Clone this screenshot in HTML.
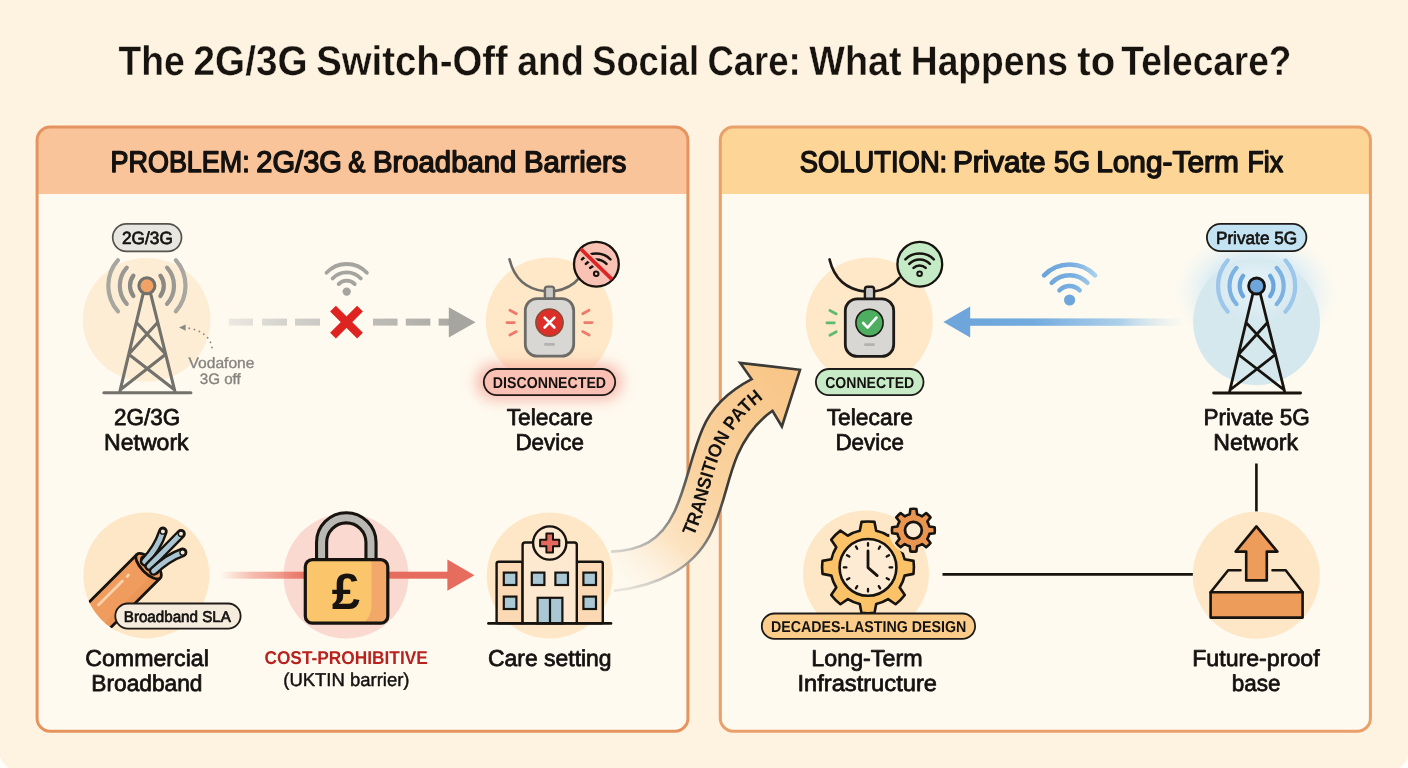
<!DOCTYPE html>
<html lang="en">
<head>
<meta charset="utf-8">
<title>The 2G/3G Switch-Off and Social Care: What Happens to Telecare?</title>
<style>
html,body{margin:0;padding:0;background:#ffffff;}
body{width:1408px;height:768px;overflow:hidden;}
svg{display:block;will-change:transform;font-family:"Liberation Sans",Arial,Helvetica,sans-serif;}
text{white-space:pre;text-rendering:geometricPrecision;}
</style>
</head>
<body>
<svg width="1408" height="768" viewBox="0 0 1408 768">
<defs>
<linearGradient id="gDash" gradientUnits="userSpaceOnUse" x1="228" y1="0" x2="476" y2="0">
<stop offset="0" stop-color="#ece9e3"/><stop offset="0.25" stop-color="#d3d1cb"/><stop offset="0.6" stop-color="#bdbbb5"/><stop offset="1" stop-color="#a6a59f"/></linearGradient>
<linearGradient id="gRed" gradientUnits="userSpaceOnUse" x1="220" y1="0" x2="310" y2="0">
<stop offset="0" stop-color="#ee8d7e" stop-opacity="0"/><stop offset="0.35" stop-color="#ee8d7e" stop-opacity="0.55"/><stop offset="1" stop-color="#e66c5d"/></linearGradient>
<linearGradient id="gBlue" gradientUnits="userSpaceOnUse" x1="970" y1="0" x2="1185" y2="0">
<stop offset="0" stop-color="#6ea6dc"/><stop offset="0.3" stop-color="#74abdf"/><stop offset="0.7" stop-color="#a3cbe9" stop-opacity="0.9"/><stop offset="1" stop-color="#cfe4f2" stop-opacity="0"/></linearGradient>
<linearGradient id="gWifiB" gradientUnits="userSpaceOnUse" x1="1040" y1="0" x2="1100" y2="0">
<stop offset="0" stop-color="#6ba4db"/><stop offset="0.55" stop-color="#78aee0"/><stop offset="1" stop-color="#b4d8ef"/></linearGradient>
<linearGradient id="gPathFill" gradientUnits="userSpaceOnUse" x1="612" y1="575" x2="790" y2="380">
<stop offset="0" stop-color="#fdf3e4" stop-opacity="0"/><stop offset="0.1" stop-color="#fdf1e0" stop-opacity="0.7"/><stop offset="0.25" stop-color="#fce3c1"/><stop offset="0.5" stop-color="#fad3a0"/><stop offset="1" stop-color="#f8c688"/></linearGradient>
<linearGradient id="gPathStroke" gradientUnits="userSpaceOnUse" x1="612" y1="575" x2="720" y2="480">
<stop offset="0" stop-color="#cfcdc9" stop-opacity="0.5"/><stop offset="0.45" stop-color="#9c9a96"/><stop offset="1" stop-color="#3b3a36"/></linearGradient>
<radialGradient id="gGlowB" cx="0.5" cy="0.5" r="0.5">
<stop offset="0" stop-color="#bfe0f5" stop-opacity="0.95"/><stop offset="0.6" stop-color="#cfe7f6" stop-opacity="0.7"/><stop offset="1" stop-color="#e6f2f8" stop-opacity="0"/></radialGradient>
<radialGradient id="gHalo" cx="0.5" cy="0.5" r="0.5"><stop offset="0" stop-color="#e8f4fa" stop-opacity="0.9"/><stop offset="0.55" stop-color="#e3f1f8" stop-opacity="0.6"/><stop offset="1" stop-color="#d9ebf3" stop-opacity="0"/></radialGradient>
<filter id="blur6" x="-30%" y="-120%" width="160%" height="340%"><feGaussianBlur stdDeviation="7"/></filter>
</defs>
<rect width="1408" height="768" fill="#fef2e1"/>
<path d="M0 757.3Q3.4 763.6 8.6 768H0ZM1408 757.8Q1404.6 763.6 1399.2 768H1408Z" fill="#fffefb"/>
<text y="75.30" font-size="41.4" fill="#17130f" font-weight="bold" stroke="#fef2e1" stroke-width="0.35" stroke-linejoin="round"><tspan x="118.58" textLength="66.28" lengthAdjust="spacingAndGlyphs">The</tspan> <tspan x="193.62" textLength="113.84" lengthAdjust="spacingAndGlyphs">2G/3G</tspan> <tspan x="316.23" textLength="191.54" lengthAdjust="spacingAndGlyphs">Switch-Off</tspan> <tspan x="517.24" textLength="66.58" lengthAdjust="spacingAndGlyphs">and</tspan> <tspan x="592.26" textLength="106.81" lengthAdjust="spacingAndGlyphs">Social</tspan> <tspan x="707.43" textLength="93.27" lengthAdjust="spacingAndGlyphs">Care:</tspan> <tspan x="809.33" textLength="92.28" lengthAdjust="spacingAndGlyphs">What</tspan> <tspan x="910.75" textLength="157.18" lengthAdjust="spacingAndGlyphs">Happens</tspan> <tspan x="1077.33" textLength="37.91" lengthAdjust="spacingAndGlyphs">to</tspan> <tspan x="1121.33" textLength="170.14" lengthAdjust="spacingAndGlyphs">Telecare?</tspan></text>
<rect x="37.1" y="127.1" width="650.8" height="604.1" rx="13" fill="#fefaef"/>
<path d="M37.1 194V140.1A13 13 0 0 1 50.1 127.1H674.9A13 13 0 0 1 687.9 140.1V194Z" fill="#f9c499"/>
<rect x="37.1" y="127.1" width="650.8" height="604.1" rx="13" fill="none" stroke="#e6945f" stroke-width="3"/>
<rect x="720.3" y="127.1" width="650.1" height="604.1" rx="13" fill="#fefaef"/>
<path d="M720.3 194V140.1A13 13 0 0 1 733.3 127.1H1357.4A13 13 0 0 1 1370.4 140.1V194Z" fill="#fdd697"/>
<rect x="720.3" y="127.1" width="650.1" height="604.1" rx="13" fill="none" stroke="#e9a06a" stroke-width="3"/>
<text y="171.75" font-size="29.8" fill="#141210" stroke="#141210" stroke-width="1.45" stroke-linejoin="round"><tspan x="110.62" textLength="139.08" lengthAdjust="spacingAndGlyphs">PROBLEM:</tspan> <tspan x="256.36" textLength="85.58" lengthAdjust="spacingAndGlyphs">2G/3G</tspan> <tspan x="348.17" textLength="17.13" lengthAdjust="spacingAndGlyphs">&amp;</tspan> <tspan x="372.93" textLength="143.49" lengthAdjust="spacingAndGlyphs">Broadband</tspan> <tspan x="523.94" textLength="102.50" lengthAdjust="spacingAndGlyphs">Barriers</tspan></text>
<text y="171.75" font-size="29.8" fill="#141210" stroke="#141210" stroke-width="1.45" stroke-linejoin="round"><tspan x="799.87" textLength="147.37" lengthAdjust="spacingAndGlyphs">SOLUTION:</tspan> <tspan x="952.90" textLength="92.58" lengthAdjust="spacingAndGlyphs">Private</tspan> <tspan x="1053.88" textLength="36.17" lengthAdjust="spacingAndGlyphs">5G</tspan> <tspan x="1096.14" textLength="142.68" lengthAdjust="spacingAndGlyphs">Long-Term</tspan> <tspan x="1247.39" textLength="35.64" lengthAdjust="spacingAndGlyphs">Fix</tspan></text>
<ellipse cx="146.6" cy="319.8" rx="63.8" ry="61.8" fill="#fdedd4"/>
<path d="M160.40 275.63A16.90 16.90 0 0 1 160.40 295.97M133.40 295.97A16.90 16.90 0 0 1 133.40 275.63" fill="none" stroke="#8b8984" stroke-width="4.2" stroke-linecap="round"/>
<path d="M167.04 267.67A27.10 27.10 0 0 1 167.04 303.93M126.76 303.93A27.10 27.10 0 0 1 126.76 267.67" fill="none" stroke="#9a9893" stroke-width="4.2" stroke-linecap="round"/>
<path d="M175.81 260.22A38.60 38.60 0 0 1 175.81 311.38M117.99 311.38A38.60 38.60 0 0 1 117.99 260.22" fill="none" stroke="#a8a79f" stroke-width="4.2" stroke-linecap="round"/>
<path d="M143.1 293.8L119.9 391.3M150.7 293.8L174.9 391.3M136.3 322.3L165.7 354.3M157.8 322.3L128.7 354.3M128.7 354.3L174.5 389.8M165.7 354.3L120.3 389.8" fill="none" stroke="#73716c" stroke-width="3.1" stroke-linecap="round" stroke-linejoin="round"/>
<path d="M103.9 392.8H190.9" stroke="#73716c" stroke-width="3.1" stroke-linecap="round"/>
<circle cx="146.9" cy="285.8" r="8" fill="#f2a266" stroke="#73716c" stroke-width="3.1"/>
<rect x="112.7" y="223.9" width="68.8" height="27.4" rx="13.7" fill="#e8e6e1" stroke="#55534e" stroke-width="1.7"/>
<text x="122.04" y="244.00" textLength="50.80" lengthAdjust="spacingAndGlyphs" font-size="17.6" fill="#141210" stroke="#141210" stroke-width="0.7" stroke-linejoin="round">2G/3G</text>
<path d="M211.9 347.5C210.5 337 201 329.5 186.5 327.9" fill="none" stroke="#8b8984" stroke-width="1.8" stroke-dasharray="0.1 5.2" stroke-linecap="round"/>
<path d="M185.6 324.4L179 327.5L185.6 330.8Z" fill="#8b8984"/>
<text font-size="15.1" fill="#86847f" stroke="#86847f" stroke-width="0.35" stroke-linejoin="round"><tspan x="188.48" y="368.10" textLength="65.98" lengthAdjust="spacingAndGlyphs">Vodafone</tspan> <tspan x="199.70" y="384.40" textLength="41.07" lengthAdjust="spacingAndGlyphs">3G off</tspan></text>
<text font-size="23" fill="#141210" stroke="#141210" stroke-width="0.75" stroke-linejoin="round"><tspan x="114.12" y="424.80" textLength="66.08" lengthAdjust="spacingAndGlyphs">2G/3G</tspan> <tspan x="103.97" y="449.70" textLength="84.69" lengthAdjust="spacingAndGlyphs">Network</tspan></text>
<rect x="228.8" y="318.6" width="24.2" height="7" fill="url(#gDash)"/>
<rect x="262" y="318.6" width="25.0" height="7" fill="url(#gDash)"/>
<rect x="295" y="318.6" width="25.0" height="7" fill="url(#gDash)"/>
<rect x="373" y="318.6" width="24.5" height="7" fill="url(#gDash)"/>
<rect x="405.8" y="318.6" width="24.5" height="7" fill="url(#gDash)"/>
<rect x="438.6" y="318.6" width="11.4" height="7" fill="url(#gDash)"/>
<path d="M448.8 307.2L475.6 322.2L448.8 337.4Z" fill="#a6a59f"/>
<path d="M333 308.6L360 335.6M360 308.6L333 335.6" stroke="#df2320" stroke-width="8.2" fill="none"/>
<path d="M338.66 284.10A11.00 11.00 0 0 1 354.74 284.10M332.58 278.44A19.30 19.30 0 0 1 360.82 278.44M326.51 272.78A27.60 27.60 0 0 1 366.89 272.78" fill="none" stroke="#a5a49e" stroke-width="3.8" stroke-linecap="round"/>
<circle cx="346.7" cy="291.6" r="4.2" fill="#a5a49e"/>
<circle cx="549.3" cy="321.0" r="63.5" fill="#fee8c7"/>
<rect x="476" y="364" width="146" height="36" rx="18" fill="#f5a094" opacity="0.7" filter="url(#blur6)"/>
<path d="M509.5 259.2C514.0 277.6 525.5 289.1 545.0 291.3M554.0 291.3C565.5 289.6 573.5 285.1 579.5 277.6" fill="none" stroke="#6c6b67" stroke-width="2.6" stroke-linecap="round"/>
<rect x="544.9" y="286.6" width="9.2" height="15" rx="2.6" fill="#c9c8c4" stroke="#6c6b67" stroke-width="2.4"/>
<rect x="525.3" y="298.6" width="48.4" height="57.6" rx="12" fill="#d8d7d3" stroke="#6c6b67" stroke-width="2.8"/>
<circle cx="549.5" cy="322.6" r="13.6" fill="#dc2f2a" stroke="#8b4a35" stroke-width="1.6"/>
<rect x="544.0" y="343.0" width="11" height="2.8" rx="1.4" fill="#b3b2ae"/>
<path d="M509.9 310.2L516.3 313.7M506.9 322.6H514.3M509.9 335.1L516.3 331.6M589.1 310.2L582.7 313.7M592.1 322.6H584.7M589.1 335.1L582.7 331.6" fill="none" stroke="#ee7a6b" stroke-width="2.8" stroke-linecap="round"/>
<path d="M544.6 317.7L554.4 327.5M554.4 317.7L544.6 327.5" stroke="#fff" stroke-width="2.6" stroke-linecap="round"/>
<circle cx="596.4" cy="264.2" r="22.4" fill="#f9c2b4" stroke="#17130f" stroke-width="2.3"/>
<path d="M590.16 267.96A8.40 8.40 0 0 1 602.24 267.96M585.91 263.87A14.30 14.30 0 0 1 606.49 263.87M581.97 259.32A20.30 20.30 0 0 1 610.43 259.32" fill="none" stroke="#17130f" stroke-width="2.5" stroke-linecap="round"/>
<circle cx="596.2" cy="273.8" r="2.3" fill="#f9c2b4" stroke="#17130f" stroke-width="2"/>
<path d="M582.2 250.6L610.0 277.6" stroke="#f9c2b4" stroke-width="7"/>
<path d="M580.6 248.8L612.0 279.4" stroke="#dc2626" stroke-width="3.7"/>
<rect x="483.8" y="369" width="131.4" height="26.2" rx="13.1" fill="#f9c0b3" stroke="#1f1b18" stroke-width="1.8"/>
<text x="492.87" y="387.75" textLength="113.23" lengthAdjust="spacingAndGlyphs" font-size="15.8" fill="#141210" font-weight="bold">DISCONNECTED</text>
<text font-size="23" fill="#141210" stroke="#141210" stroke-width="0.75" stroke-linejoin="round"><tspan x="506.67" y="424.80" textLength="86.28" lengthAdjust="spacingAndGlyphs">Telecare</tspan> <tspan x="515.42" y="449.70" textLength="68.51" lengthAdjust="spacingAndGlyphs">Device</tspan></text>
<circle cx="146.4" cy="575.4" r="63" fill="#fee7c6"/>
<clipPath id="cableClip"><circle cx="146.4" cy="575.4" r="63.2"/></clipPath>
<g clip-path="url(#cableClip)">
<g transform="translate(148.6 566.2) rotate(-45)">
<path d="M-100 -16.6H0V16.6H-100Z" fill="#ef9c5e"/>
<path d="M-100 9H-2V16.6H-100Z" fill="#e88e50" opacity="0.5"/>
<path d="M-100 -16.6H0M-100 16.6H0" stroke="#17130f" stroke-width="2.8" fill="none"/>
<path d="M-63 -8H-29" stroke="#fbd2ab" stroke-width="2.8" stroke-linecap="round"/>
<path d="M-22.5 -8H-20.5" stroke="#fbd2ab" stroke-width="2.8" stroke-linecap="round"/>
<ellipse cx="0" cy="0" rx="7" ry="16.6" fill="#ef9c5e" stroke="#17130f" stroke-width="2.8"/>
<ellipse cx="1.6" cy="0" rx="4.2" ry="11" fill="#e58a4c" stroke="#17130f" stroke-width="2.4"/>
</g></g>
<path d="M144.6 561.6Q157.5 548 162.9 531.4" fill="none" stroke="#17130f" stroke-width="9.6" stroke-linecap="round"/>
<path d="M144.6 561.6Q157.5 548 162.9 531.4" fill="none" stroke="#a9c5d2" stroke-width="4.8" stroke-linecap="round"/>
<circle cx="162.9" cy="531.4" r="2.7" fill="#f7e6d4" stroke="#17130f" stroke-width="1.4"/>
<path d="M149.2 566.2Q165 550 181 533.8" fill="none" stroke="#17130f" stroke-width="9.6" stroke-linecap="round"/>
<path d="M149.2 566.2Q165 550 181 533.8" fill="none" stroke="#a9c5d2" stroke-width="4.8" stroke-linecap="round"/>
<circle cx="181" cy="533.8" r="2.7" fill="#f7e6d4" stroke="#17130f" stroke-width="1.4"/>
<path d="M153.6 571Q168 557.5 182.6 552.4" fill="none" stroke="#17130f" stroke-width="9.6" stroke-linecap="round"/>
<path d="M153.6 571Q168 557.5 182.6 552.4" fill="none" stroke="#a9c5d2" stroke-width="4.8" stroke-linecap="round"/>
<circle cx="182.6" cy="552.4" r="2.7" fill="#f7e6d4" stroke="#17130f" stroke-width="1.4"/>
<rect x="115.3" y="603.5" width="125.3" height="25.1" rx="12.55" fill="#f6ecde" stroke="#1f1b18" stroke-width="1.8"/>
<text x="123.77" y="621.75" textLength="107.06" lengthAdjust="spacingAndGlyphs" font-size="15.6" fill="#141210" stroke="#141210" stroke-width="0.7" stroke-linejoin="round">Broadband SLA</text>
<text font-size="23" fill="#141210" stroke="#141210" stroke-width="0.75" stroke-linejoin="round"><tspan x="85.19" y="665.80" textLength="123.67" lengthAdjust="spacingAndGlyphs">Commercial</tspan> <tspan x="91.30" y="690.80" textLength="111.20" lengthAdjust="spacingAndGlyphs">Broadband</tspan></text>
<circle cx="346" cy="576" r="62.5" fill="#fad9d0"/>
<rect x="221" y="571.7" width="90" height="7" fill="url(#gRed)"/>
<rect x="385" y="571.7" width="65" height="7" fill="#e66c5d"/>
<path d="M447.4 559.6L474.4 575.2L447.4 590.8Z" fill="#e66c5d"/>
<path d="M321.6 562V542.5A24.7 24.7 0 0 1 371 542.5V562" fill="none" stroke="#17130f" stroke-width="13.2"/>
<path d="M321.6 562V542.5A24.7 24.7 0 0 1 371 542.5V562" fill="none" stroke="#b9b8b2" stroke-width="7"/>
<clipPath id="lockClip"><rect x="305.3" y="559.7" width="82.5" height="63.5" rx="7"/></clipPath>
<rect x="305.3" y="559.7" width="82.5" height="63.5" rx="7" fill="#fbc56c"/>
<path d="M371.5 560H388V623H364C369 618 371.5 612 371.5 604Z" fill="#f1a868" clip-path="url(#lockClip)"/>
<rect x="305.3" y="559.7" width="82.5" height="63.5" rx="7" fill="none" stroke="#17130f" stroke-width="3.2"/>
<text x="331.80" y="609.40" textLength="28.27" lengthAdjust="spacingAndGlyphs" font-size="51" fill="#17130f" font-weight="bold">£</text>
<text x="264.41" y="664.00" textLength="163.35" lengthAdjust="spacingAndGlyphs" font-size="18.6" fill="#b9211e" font-weight="bold">COST-PROHIBITIVE</text>
<text x="283.26" y="685.80" textLength="126.27" lengthAdjust="spacingAndGlyphs" font-size="18.6" fill="#141210" stroke="#141210" stroke-width="0.45" stroke-linejoin="round">(UKTIN barrier)</text>
<circle cx="549.7" cy="575.5" r="63" fill="#fee7c6"/>
<rect x="496.6" y="561.8" width="26" height="61.6" rx="2" fill="#fad9b4" stroke="#17130f" stroke-width="2.4"/>
<rect x="576.8" y="561.8" width="26" height="61.6" rx="2" fill="#fad9b4" stroke="#17130f" stroke-width="2.4"/>
<path d="M522.6 623.4V545A2.5 2.5 0 0 1 525.1 542.5H574.3A2.5 2.5 0 0 1 576.8 545V623.4Z" fill="#fde9d0" stroke="#17130f" stroke-width="2.4"/>
<rect x="503.8" y="572.6" width="12.6" height="12.4" fill="#a9c8d3" stroke="#17130f" stroke-width="2.2"/>
<rect x="503.8" y="596.6" width="12.6" height="12.4" fill="#a9c8d3" stroke="#17130f" stroke-width="2.2"/>
<rect x="583.4" y="572.6" width="12.6" height="12.4" fill="#a9c8d3" stroke="#17130f" stroke-width="2.2"/>
<rect x="583.4" y="596.6" width="12.6" height="12.4" fill="#a9c8d3" stroke="#17130f" stroke-width="2.2"/>
<rect x="531.8" y="572.6" width="12.6" height="12.4" fill="#a9c8d3" stroke="#17130f" stroke-width="2.2"/>
<rect x="555.4" y="572.6" width="12.6" height="12.4" fill="#a9c8d3" stroke="#17130f" stroke-width="2.2"/>
<rect x="537.6" y="597.8" width="24.8" height="25.6" fill="#a9c8d3" stroke="#17130f" stroke-width="2.2"/>
<path d="M550 597.8V623.4" stroke="#17130f" stroke-width="2.2"/>
<path d="M488.4 623.4H611" stroke="#17130f" stroke-width="2.6" stroke-linecap="round"/>
<circle cx="549.7" cy="543" r="16.6" fill="#fde9d0" stroke="#17130f" stroke-width="2.4"/>
<path d="M546.4 533.4H553V539.7H559.3V546.3H553V552.6H546.4V546.3H540.1V539.7H546.4Z" fill="#e4685b" stroke="#17130f" stroke-width="2" stroke-linejoin="round"/>
<text x="488.05" y="665.80" textLength="123.56" lengthAdjust="spacingAndGlyphs" font-size="23" fill="#141210" stroke="#141210" stroke-width="0.75" stroke-linejoin="round">Care setting</text>
<circle cx="869.3" cy="321.0" r="63.5" fill="#fee8c7"/>
<path d="M829.5 259.4C834.0 277.8 845.5 289.3 865.0 291.5M874.0 291.5C885.5 289.8 893.5 285.3 899.5 277.8" fill="none" stroke="#1d1a17" stroke-width="2.6" stroke-linecap="round"/>
<rect x="864.9" y="286.8" width="9.2" height="15" rx="2.6" fill="#c9c8c4" stroke="#1d1a17" stroke-width="2.4"/>
<rect x="845.3" y="298.8" width="48.4" height="57.6" rx="12" fill="#d8d7d3" stroke="#1d1a17" stroke-width="2.8"/>
<circle cx="869.5" cy="322.8" r="13.6" fill="#4dae5f" stroke="#1d1a17" stroke-width="1.6"/>
<rect x="864.0" y="343.2" width="11" height="2.8" rx="1.4" fill="#b3b2ae"/>
<path d="M829.9 310.4L836.3 313.9M826.9 322.8H834.3M829.9 335.3L836.3 331.8" fill="none" stroke="#5fbb6c" stroke-width="2.8" stroke-linecap="round"/>
<path d="M863.2 323L867.6 327.6L876.4 317.6" stroke="#fff" stroke-width="2.6" fill="none" stroke-linecap="round" stroke-linejoin="round"/>
<circle cx="919.8" cy="264.2" r="22.4" fill="#c5eac6" stroke="#17130f" stroke-width="2.3"/>
<path d="M913.56 267.96A8.40 8.40 0 0 1 925.64 267.96M909.31 263.87A14.30 14.30 0 0 1 929.89 263.87M905.37 259.32A20.30 20.30 0 0 1 933.83 259.32" fill="none" stroke="#17130f" stroke-width="2.5" stroke-linecap="round"/>
<circle cx="919.6" cy="273.8" r="2.3" fill="#c5eac6" stroke="#17130f" stroke-width="2"/>
<rect x="815.9" y="369" width="107.6" height="26.2" rx="13.1" fill="#c6ebc6" stroke="#1f1b18" stroke-width="1.8"/>
<text x="825.16" y="387.75" textLength="89.08" lengthAdjust="spacingAndGlyphs" font-size="15.8" fill="#141210" font-weight="bold">CONNECTED</text>
<text font-size="23" fill="#141210" stroke="#141210" stroke-width="0.75" stroke-linejoin="round"><tspan x="826.67" y="424.80" textLength="86.28" lengthAdjust="spacingAndGlyphs">Telecare</tspan> <tspan x="835.42" y="449.70" textLength="68.51" lengthAdjust="spacingAndGlyphs">Device</tspan></text>
<rect x="968" y="318.4" width="217" height="7.4" fill="url(#gBlue)"/>
<path d="M970.2 306.6L943.4 322.1L970.2 337.6Z" fill="#6ea6dc"/>
<path d="M1059.53 290.27A14.00 14.00 0 0 1 1079.67 290.27M1051.76 282.77A24.80 24.80 0 0 1 1087.44 282.77M1044.06 275.34A35.50 35.50 0 0 1 1095.14 275.34" fill="none" stroke="url(#gWifiB)" stroke-width="4.6" stroke-linecap="round"/>
<circle cx="1069.6" cy="300" r="5.6" fill="#6ea6dc"/>
<ellipse cx="1256" cy="292" rx="82" ry="62" fill="url(#gGlowB)"/>
<circle cx="1256.6" cy="321.7" r="63.5" fill="#d5e8ee"/>
<ellipse cx="1256.6" cy="288" rx="50" ry="36" fill="url(#gHalo)"/>
<path d="M1270.10 275.83A16.90 16.90 0 0 1 1270.10 296.17M1243.10 296.17A16.90 16.90 0 0 1 1243.10 275.83" fill="none" stroke="#6aa5dd" stroke-width="4.2" stroke-linecap="round"/>
<path d="M1276.74 267.87A27.10 27.10 0 0 1 1276.74 304.13M1236.46 304.13A27.10 27.10 0 0 1 1236.46 267.87" fill="none" stroke="#7db2e2" stroke-width="4.2" stroke-linecap="round"/>
<path d="M1285.51 260.42A38.60 38.60 0 0 1 1285.51 311.58M1227.69 311.58A38.60 38.60 0 0 1 1227.69 260.42" fill="none" stroke="#9cc6ea" stroke-width="4.2" stroke-linecap="round"/>
<path d="M1252.8 294.0L1229.6 391.5M1260.4 294.0L1284.6 391.5M1246.0 322.5L1275.4 354.5M1267.5 322.5L1238.4 354.5M1238.4 354.5L1284.2 390.0M1275.4 354.5L1230.0 390.0" fill="none" stroke="#17130f" stroke-width="2.8" stroke-linecap="round" stroke-linejoin="round"/>
<path d="M1213.6 393.0H1300.6" stroke="#17130f" stroke-width="2.8" stroke-linecap="round"/>
<circle cx="1256.6" cy="286.0" r="8" fill="#6ea6dc" stroke="#17130f" stroke-width="2.8"/>
<rect x="1206.9" y="223.9" width="99.5" height="27.2" rx="13.6" fill="#c3e2f2" stroke="#1f1b18" stroke-width="1.8"/>
<text x="1215.91" y="243.80" textLength="81.28" lengthAdjust="spacingAndGlyphs" font-size="17.6" fill="#141210" stroke="#141210" stroke-width="0.7" stroke-linejoin="round">Private 5G</text>
<text font-size="23" fill="#141210" stroke="#141210" stroke-width="0.75" stroke-linejoin="round"><tspan x="1203.42" y="424.80" textLength="106.29" lengthAdjust="spacingAndGlyphs">Private 5G</tspan> <tspan x="1213.27" y="449.80" textLength="84.74" lengthAdjust="spacingAndGlyphs">Network</tspan></text>
<path d="M1256.4 463.5V511.5M942.5 574.4H1193" stroke="#17130f" stroke-width="2.6" fill="none"/>
<circle cx="866" cy="573.5" r="63" fill="#fee7c6"/>
<path d="M859.8 530.8L861.5 521.9A46.0 46.0 0 0 1 874.5 521.9L876.2 530.8A37.5 37.5 0 0 1 888.1 535.7L895.6 530.6A46.0 46.0 0 0 1 904.8 539.8L899.7 547.3A37.5 37.5 0 0 1 904.6 559.2L913.5 560.9A46.0 46.0 0 0 1 913.5 573.9L904.6 575.6A37.5 37.5 0 0 1 899.7 587.5L904.8 595.0A46.0 46.0 0 0 1 895.6 604.2L888.1 599.1A37.5 37.5 0 0 1 876.2 604.0L874.5 612.9A46.0 46.0 0 0 1 861.5 612.9L859.8 604.0A37.5 37.5 0 0 1 847.9 599.1L840.4 604.2A46.0 46.0 0 0 1 831.2 595.0L836.3 587.5A37.5 37.5 0 0 1 831.4 575.6L822.5 573.9A46.0 46.0 0 0 1 822.5 560.9L831.4 559.2A37.5 37.5 0 0 1 836.3 547.3L831.2 539.8A46.0 46.0 0 0 1 840.4 530.6L847.9 535.7A37.5 37.5 0 0 1 859.8 530.8Z" fill="#fbc267" stroke="#17130f" stroke-width="2.6" stroke-linejoin="round"/>
<circle cx="868" cy="567.4" r="28.4" fill="#fdebd4" stroke="#17130f" stroke-width="2.6"/>
<path d="M868.0 545.8L868.0 543.2M878.8 548.7L880.1 546.4M886.7 556.6L889.0 555.3M889.6 567.4L892.2 567.4M886.7 578.2L889.0 579.5M878.8 586.1L880.1 588.4M868.0 589.0L868.0 591.6M857.2 586.1L855.9 588.4M849.3 578.2L847.0 579.5M846.4 567.4L843.8 567.4M849.3 556.6L847.0 555.3M857.2 548.7L855.9 546.4" stroke="#17130f" stroke-width="2.3" stroke-linecap="round"/>
<path d="M868 551V567.6L877.2 575.6" fill="none" stroke="#17130f" stroke-width="2.8" stroke-linecap="round" stroke-linejoin="round"/>
<clipPath id="gearClip"><circle cx="866" cy="573.5" r="63"/></clipPath>
<circle cx="913.4" cy="530.2" r="24.6" fill="#fee7c6" clip-path="url(#gearClip)"/>
<path d="M909.7 514.2L910.4 509.0A21.4 21.4 0 0 1 916.4 509.0L917.1 514.2A16.4 16.4 0 0 1 922.1 516.3L926.2 513.1A21.4 21.4 0 0 1 930.5 517.4L927.3 521.5A16.4 16.4 0 0 1 929.4 526.5L934.6 527.2A21.4 21.4 0 0 1 934.6 533.2L929.4 533.9A16.4 16.4 0 0 1 927.3 538.9L930.5 543.0A21.4 21.4 0 0 1 926.2 547.3L922.1 544.1A16.4 16.4 0 0 1 917.1 546.2L916.4 551.4A21.4 21.4 0 0 1 910.4 551.4L909.7 546.2A16.4 16.4 0 0 1 904.7 544.1L900.6 547.3A21.4 21.4 0 0 1 896.3 543.0L899.5 538.9A16.4 16.4 0 0 1 897.4 533.9L892.2 533.2A21.4 21.4 0 0 1 892.2 527.2L897.4 526.5A16.4 16.4 0 0 1 899.5 521.5L896.3 517.4A21.4 21.4 0 0 1 900.6 513.1L904.7 516.3A16.4 16.4 0 0 1 909.7 514.2Z" fill="#e9944f" stroke="#17130f" stroke-width="2.6" stroke-linejoin="round"/>
<circle cx="913.4" cy="530.2" r="8.4" fill="#fdebd4" stroke="#17130f" stroke-width="2.8"/>
<rect x="761.8" y="613.5" width="213.3" height="25.4" rx="12.7" fill="#fbcc8a" stroke="#1f1b18" stroke-width="1.8"/>
<text x="770.91" y="631.80" textLength="195.43" lengthAdjust="spacingAndGlyphs" font-size="15.8" fill="#141210" font-weight="bold">DECADES-LASTING DESIGN</text>
<text font-size="23" fill="#141210" stroke="#141210" stroke-width="0.75" stroke-linejoin="round"><tspan x="811.25" y="665.80" textLength="111.38" lengthAdjust="spacingAndGlyphs">Long-Term</tspan> <tspan x="797.42" y="690.80" textLength="139.56" lengthAdjust="spacingAndGlyphs">Infrastructure</tspan></text>
<circle cx="1256.3" cy="575.3" r="63.5" fill="#fee7c6"/>
<path d="M1240.5 570.2H1228.2L1210.6 592.2H1302.6L1285.7 570.2H1272.5" fill="#fde6c8" stroke="#17130f" stroke-width="2.6" stroke-linejoin="round" stroke-linecap="round"/>
<rect x="1210.6" y="592.2" width="92" height="25.4" fill="#ee9c5a" stroke="#17130f" stroke-width="2.6" stroke-linejoin="round"/>
<path d="M1246.2 580.4V551.6H1235.6L1256.4 526.4L1277.4 551.6H1266.8V580.4Z" fill="#ee9c5a" stroke="#17130f" stroke-width="2.6" stroke-linejoin="round"/>
<text font-size="23" fill="#141210" stroke="#141210" stroke-width="0.75" stroke-linejoin="round"><tspan x="1192.16" y="665.80" textLength="127.48" lengthAdjust="spacingAndGlyphs">Future-proof</tspan> <tspan x="1231.77" y="690.80" textLength="48.77" lengthAdjust="spacingAndGlyphs">base</tspan></text>
<path d="M611 551.6C640 550.3 660.5 541.5 674.5 511.5C687 484.5 690.5 457 702.5 429C712.5 405 731 390 751.7 379.2L740.2 362.9L800 369.8L781.9 426.5L772.5 410.8C758 421 745.5 437 737.5 455C726.5 481 723.5 509 709.5 536C693 567 660 586 614 590.8Z" fill="url(#gPathFill)"/>
<path d="M611 551.6C640 550.3 660.5 541.5 674.5 511.5C687 484.5 690.5 457 702.5 429C712.5 405 731 390 751.7 379.2L740.2 362.9L800 369.8L781.9 426.5L772.5 410.8C758 421 745.5 437 737.5 455C726.5 481 723.5 509 709.5 536C693 567 660 586 614 590.8" fill="none" stroke="url(#gPathStroke)" stroke-width="2.6" stroke-linejoin="miter"/>
<path id="tp" d="M693.6 536.6C708.2 504.5 709.5 477.5 723.5 447.5C735.5 423.5 749.5 407.5 773.5 391.5" fill="none"/>
<text font-size="18.8" font-weight="bold" fill="#141210"><textPath href="#tp" startOffset="0" textLength="158" lengthAdjust="spacingAndGlyphs">TRANSITION PATH</textPath></text>
</svg>
</body>
</html>
